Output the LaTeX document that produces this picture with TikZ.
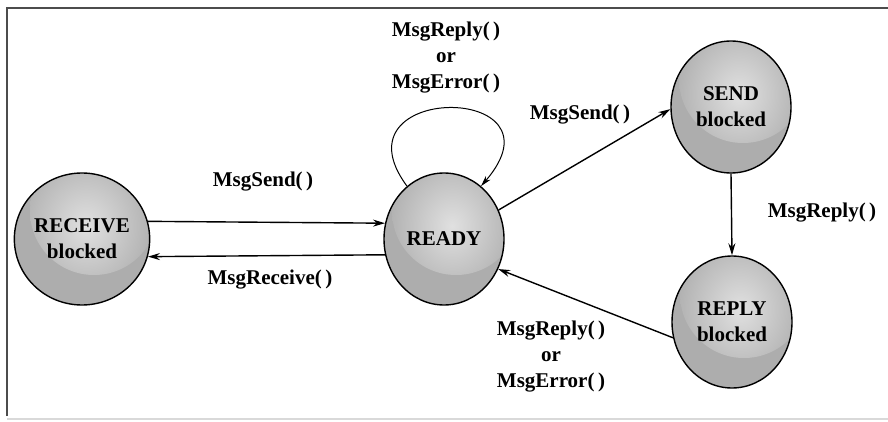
\documentclass[tikz,border=0pt]{standalone}
\usepackage{fontspec}
\setmainfont{Liberation Serif}
\usetikzlibrary{shapes.geometric,arrows.meta,calc}
\begin{document}
\begin{tikzpicture}[x=1pt,y=-1pt,
  every node/.style={font=\fontsize{21}{26}\selectfont\bfseries, align=center, inner sep=0pt},
  state/.style={ellipse, draw=black, line width=1.4pt, minimum width=120pt, minimum height=132pt,
    fill=black!32,
    path picture={\shade[inner color=black!12, outer color=black!32]
      ($(path picture bounding box.center)+(12,-28)$) circle (64pt);}},
  arr/.style={line width=1.4pt, -{Stealth[length=12pt,width=7pt]}},
  loop arr/.style={line width=1pt, -{Stealth[length=11pt,width=6pt]}},
  frame/.style={line width=2pt, black!70}
]
\useasboundingbox (0,0) rectangle (888,422);
% frame
\draw[frame] (7,416) -- (7,8) -- (888,8);
\draw[line width=1.5pt, black!15] (7,419) -- (888,419);

% states
\node[state] (rcv) at (82,239) {RECEIVE\\blocked};
\node[state] (rdy) at (444,239) {READY};
\node[state] (snd) at (731,107) {SEND\\blocked};
\node[state] (rpl) at (732,322) {REPLY\\blocked};

% connectors
\draw[arr] (rcv.15) -- (rdy.165);
\draw[arr] (rdy.195) -- (rcv.-15);
\draw[arr] (rdy.28) -- (snd.182);
\draw[arr] (snd.south) -- (rpl.north);
\draw[arr] (rpl.195) -- (rdy.-29);
\draw[loop arr] (rdy.125) .. controls +(-77,-104) and +(90,-104) .. (rdy.55);

% labels
\node (l1) at (263,182) {MsgSend(\,)};
\node (l2) at (270,280) {MsgReceive(\,)};
\node (l3) at (446,58) {MsgReply(\,)\\or\\MsgError(\,)};
\node (l4) at (580,115) {MsgSend(\,)};
\node (l5) at (822,213) {MsgReply(\,)};
\node (l6) at (551,357) {MsgReply(\,)\\or\\MsgError(\,)};
\end{tikzpicture}
\end{document}
